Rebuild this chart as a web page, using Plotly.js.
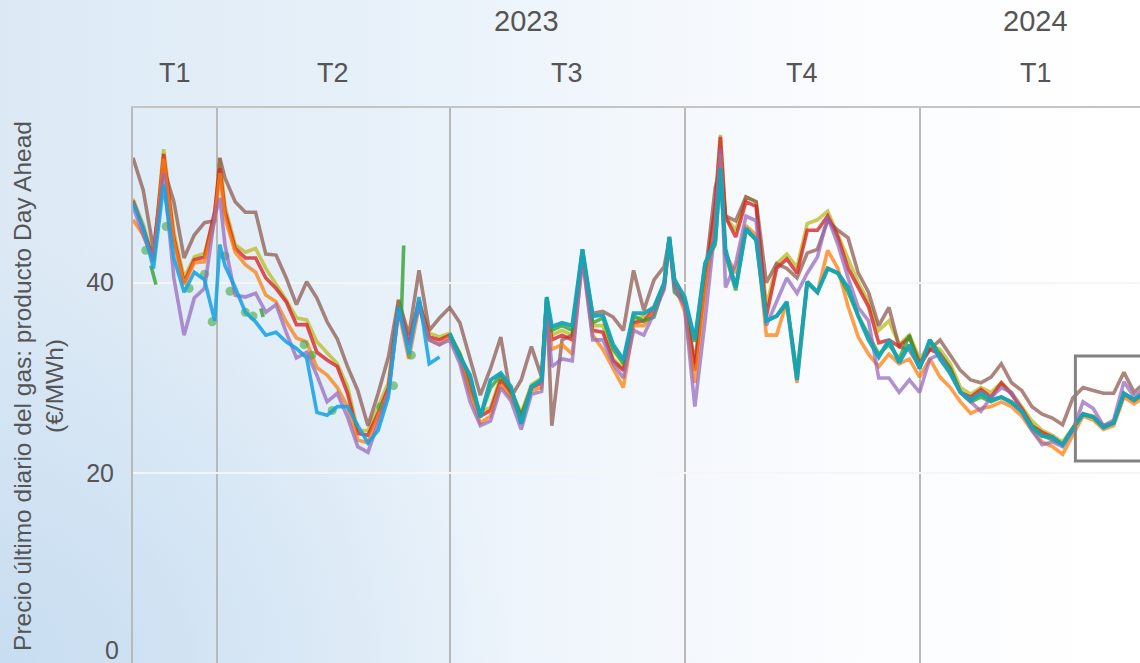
<!DOCTYPE html>
<html><head><meta charset="utf-8">
<script src="https://cdn.plot.ly/plotly-3.0.1.min.js"></script>
<style>
html,body{margin:0;padding:0;width:1140px;height:663px;overflow:hidden;}
body{background:
 radial-gradient(ellipse 60% 85% at 0% 100%, rgba(196,219,240,0.85) 0%, rgba(196,219,240,0) 75%),
 linear-gradient(90deg, #dce9f5 0%, #e6f0f9 30%, #f2f7fc 55%, #fbfcfe 75%, #ffffff 100%);}
#chart{width:1180px;height:690px;}
</style></head><body><div id="chart"></div><script>
const dates = ['2023-02-27','2023-03-03','2023-03-07','2023-03-11','2023-03-15','2023-03-19','2023-03-23','2023-03-27','2023-03-31','2023-04-02',
'2023-04-04','2023-04-08','2023-04-12','2023-04-16','2023-04-20','2023-04-24','2023-04-28','2023-05-02','2023-05-06','2023-05-10',
'2023-05-14','2023-05-18','2023-05-22','2023-05-26','2023-05-30','2023-06-03','2023-06-07','2023-06-11','2023-06-15','2023-06-19',
'2023-06-23','2023-06-27','2023-07-01','2023-07-05','2023-07-09','2023-07-13','2023-07-17','2023-07-21','2023-07-25','2023-07-29',
'2023-08-02','2023-08-06','2023-08-08','2023-08-10','2023-08-14','2023-08-18','2023-08-22','2023-08-26','2023-08-30','2023-09-03',
'2023-09-07','2023-09-11','2023-09-15','2023-09-19','2023-09-23','2023-09-25','2023-09-27','2023-10-01','2023-10-05','2023-10-09',
'2023-10-13','2023-10-15','2023-10-17','2023-10-21','2023-10-25','2023-10-29','2023-11-02','2023-11-06','2023-11-10','2023-11-14',
'2023-11-18','2023-11-22','2023-11-26','2023-11-30','2023-12-04','2023-12-08','2023-12-12','2023-12-16','2023-12-20','2023-12-24',
'2023-12-28','2024-01-01','2024-01-05','2024-01-09','2024-01-13','2024-01-17','2024-01-21','2024-01-25','2024-01-29','2024-02-02',
'2024-02-06','2024-02-10','2024-02-14','2024-02-18','2024-02-22','2024-02-26','2024-03-01','2024-03-05','2024-03-09','2024-03-13',
'2024-03-17','2024-03-21','2024-03-25','2024-03-29'];

const brown = [53.1,49.7,43.5,52.0,48.5,42.6,45.0,46.3,46.5,53.1,
51.0,48.5,47.4,47.4,43.0,42.9,40.5,37.7,40.1,38.4,
35.9,34.1,31.2,28.7,25.0,28.4,32.2,38.2,34.5,41.3,
35.0,36.3,37.4,35.8,32.0,28.2,31.0,34.3,28.0,29.8,
33.3,30.1,38.3,25.0,34.0,34.5,43.0,36.8,37.0,36.4,
35.0,41.3,37.1,40.3,41.7,44.6,40.0,38.0,31.5,40.5,
50.0,52.0,47.0,46.5,49.0,48.5,40.0,42.0,41.5,40.5,
43.1,43.5,46.5,45.5,44.7,41.0,39.0,35.5,37.4,33.3,
32.9,31.2,33.0,34.0,32.4,30.8,29.8,29.5,30.1,31.5,
29.5,28.7,27.0,26.2,25.8,25.1,27.9,29.0,28.7,28.4,
28.4,30.6,28.5,29.5];

const yellowGreen = [48.8,46.1,42.6,54.0,45.3,40.5,42.7,43.1,47.0,53.1,
48.0,44.0,43.2,43.6,41.5,39.8,38.2,36.3,36.1,33.8,
32.7,31.5,29.1,24.5,24.5,27.0,29.5,38.2,34.0,38.2,
34.7,34.3,34.7,32.6,29.0,26.5,26.9,30.1,28.7,26.3,
29.3,30.0,38.3,34.5,35.0,34.5,43.3,35.5,35.5,32.0,
31.0,36.0,36.5,37.5,40.0,44.8,40.5,38.0,31.0,40.0,
48.5,55.5,46.9,45.5,49.0,48.5,37.5,42.0,43.0,41.6,
46.2,46.6,47.5,45.0,42.5,40.0,38.0,35.0,36.0,33.5,
34.5,32.0,33.5,33.0,31.5,29.0,28.3,29.0,28.5,29.5,
28.5,27.0,25.5,24.5,24.0,23.3,24.8,26.3,26.0,25.0,
25.4,28.3,27.7,28.5];

const red = [48.6,45.7,42.4,53.5,44.7,40.0,42.4,42.7,47.5,52.0,
47.5,43.6,42.6,42.6,40.5,39.4,38.0,35.6,35.6,32.7,
31.9,31.2,28.4,24.2,24.0,26.3,29.0,37.5,33.5,38.0,
34.3,34.0,34.5,32.4,28.8,26.0,26.6,29.8,28.4,26.0,
29.0,29.5,38.0,34.0,34.5,34.0,43.0,35.0,34.8,31.8,
30.8,35.8,36.0,37.2,39.8,44.5,40.0,37.8,30.8,40.0,
48.0,55.3,46.9,44.8,48.5,48.0,36.5,41.5,42.5,41.0,
45.5,45.5,47.0,44.8,41.5,39.5,37.5,33.7,34.0,33.3,
34.3,31.6,33.0,32.5,31.0,28.5,28.0,28.8,28.0,29.5,
28.3,26.8,25.0,24.3,23.8,23.0,24.7,26.2,25.9,24.9,
25.3,28.3,27.6,28.4];

const orange = [46.6,45.0,42.2,53.0,44.3,39.8,42.1,42.2,46.5,51.5,
46.8,43.2,41.9,41.1,38.7,38.0,35.9,34.2,33.8,31.1,
30.3,29.0,27.0,23.5,23.2,26.0,28.5,37.0,32.0,37.5,
34.0,33.5,34.3,32.0,28.3,25.3,26.0,29.3,28.0,25.6,
28.7,29.0,37.5,33.0,33.5,32.5,42.5,34.5,33.0,31.0,
29.0,35.5,35.5,37.0,39.5,44.3,39.8,37.0,29.5,39.0,
46.0,53.5,43.0,41.0,46.0,45.0,34.5,34.5,38.0,29.5,
40.0,39.0,43.4,41.5,37.5,34.3,32.5,31.2,32.5,31.5,
32.0,30.1,32.0,30.1,29.0,27.5,26.3,26.8,27.0,27.5,
27.0,26.0,24.5,23.3,22.8,22.0,24.0,26.0,25.6,24.6,
25.0,28.0,27.3,28.0];

const purple = [48.0,45.0,42.5,51.5,40.5,34.5,38.4,39.4,47.0,48.9,
44.0,38.7,38.5,38.9,36.9,37.7,34.8,32.1,32.7,30.3,
27.5,28.4,25.9,22.8,22.2,25.5,28.5,37.0,33.5,37.5,
34.0,33.5,34.0,31.5,27.5,25.0,25.5,29.0,27.6,24.6,
28.3,28.6,37.0,31.2,32.0,31.8,42.5,34.0,34.0,31.5,
30.0,35.0,34.5,36.8,39.3,44.3,39.5,37.5,27.0,36.0,
46.0,54.0,39.5,42.0,47.0,46.5,35.5,38.0,40.5,38.9,
41.0,42.7,46.9,44.0,40.5,37.4,36.0,30.0,30.0,28.5,
29.8,28.5,32.0,32.5,30.5,28.5,27.5,26.5,28.0,29.0,
28.5,26.5,24.5,23.0,23.3,22.8,24.5,27.5,26.8,25.0,
25.6,29.6,28.0,29.0];

const lightBlue = [48.4,45.8,41.5,50.3,42.6,39.0,41.1,40.3,36.0,44.0,
41.8,39.5,36.9,35.9,34.5,34.8,33.8,33.1,32.1,26.4,
26.1,27.0,27.0,25.0,23.2,24.5,28.0,37.5,32.5,38.5,
31.5,32.2];

const teal = [34.7,32.2,30.3,25.9,29.8,30.5,29.1,25.2,
29.1,29.8,38.5,35.4,35.8,35.5,43.5,36.5,36.6,33.5,
31.9,36.8,36.8,37.4,40.0,44.8,40.3,38.5,34.0,42.0,
44.5,52.0,43.5,39.5,45.7,44.5,36.0,36.5,38.0,29.8,
40.1,39.0,41.5,41.0,39.5,36.5,34.0,32.2,34.0,31.6,
33.5,31.0,34.0,32.0,30.5,28.5,27.7,28.4,27.7,28.0,
27.4,26.5,24.8,23.9,23.8,23.0,24.7,26.2,25.9,24.8,
25.3,28.4,27.7,28.5];

const greenEarlyDates = ['2023-03-04','2023-03-05','2023-03-06','2023-03-07','2023-03-08','2023-03-09','2023-03-12','2023-03-13',
'2023-03-21','2023-03-22','2023-03-27','2023-03-28','2023-03-30','2023-03-31','2023-04-04','2023-04-05','2023-04-06','2023-04-07',
'2023-04-12','2023-04-13','2023-04-15','2023-04-16','2023-04-18','2023-04-19','2023-04-20','2023-05-05','2023-05-06','2023-05-08',
'2023-05-09','2023-05-16','2023-05-17','2023-05-25','2023-05-26','2023-05-27','2023-06-04','2023-06-05','2023-06-09','2023-06-10',
'2023-06-12','2023-06-13','2023-06-14','2023-06-16','2023-06-17'];
const greenEarly = [43.4,null,41.8,40.8,39.8,null,45.9,null,
39.4,null,40.9,null,35.9,null,42.8,null,39.1,null,
36.9,null,36.5,null,37.3,36.4,null,33.5,null,32.4,
null,26.6,null,25.3,25.0,null,27.0,null,29.2,null,
36.0,43.9,null,32.4,null];
const greenLate = [34.5,32.5,30.0,26.0,29.0,30.3,28.8,26.0,
29.0,29.8,38.5,35.0,35.5,35.0,43.5,35.8,36.3,33.0,
31.5,36.5,36.0,36.4,39.8,44.8,39.0,38.0,33.8,42.0,
44.0,51.5,43.0,39.2,45.5,44.5,36.0,36.5,37.8,30.5,
40.0,39.0,41.5,41.0,39.0,36.5,34.5,32.5,33.5,32.0,
34.5,31.0,34.0,32.5,31.0,28.5,27.5,28.0,27.5,28.0,
27.5,26.5,25.0,24.0,23.5,23.0,24.7,26.2,25.9,24.9,
25.3,28.4,27.7,28.5];

const rangeStart = '2023-02-27', rangeEnd = '2024-04-01';
const quarterBounds = ['2023-01-01','2023-04-01','2023-07-01','2023-10-01','2024-01-01','2024-04-01'];
const quarterLabels = ['T1','T2','T3','T4','T1'];
const yearBounds = ['2023-01-01','2024-01-01','2025-01-01'];
const yearLabels = ['2023','2024'];
const yTicks = [0,20,40];
const boxStart = '2024-03-02', boxEnd = '2024-03-31', boxLow = 21.3, boxHigh = 32.3;

const font = 'Liberation Sans, Arial, sans-serif';
const txt = '#555555';

function mk(name, x, y, color, w){
  return {type:'scatter', mode:'lines', name:name, x:x, y:y, connectgaps:false,
    line:{color:color, width:w||3.6}, hoverinfo:'skip', showlegend:false};
}
const greenX = greenEarlyDates.concat(dates.slice(dates.length - greenLate.length));
const greenY = greenEarly.concat(greenLate);
const greenSizes = greenY.map((v,i)=>{
  if (v === null) return 0;
  const p = i>0 ? greenY[i-1] : null, n = i<greenY.length-1 ? greenY[i+1] : null;
  return (p === null && n === null) ? 9 : 0;
});
const greenTrace = mk('Serie 5', greenX, greenY, 'rgba(44,160,44,0.78)');
greenTrace.mode = 'lines+markers';
greenTrace.marker = {size:greenSizes, color:'rgba(60,170,60,0.85)', line:{width:0}};

const traces = [
  mk('Serie 1', dates, yellowGreen, 'rgba(188,189,34,0.78)'),
  mk('Serie 2', dates, brown, 'rgba(140,86,75,0.72)'),
  mk('Serie 3', dates, red, 'rgba(214,39,40,0.8)'),
  mk('Serie 4', dates, orange, 'rgba(255,127,14,0.75)'),
  greenTrace,
  mk('Serie 6', dates, purple, 'rgba(148,103,189,0.72)'),
  mk('Serie 7', dates.slice(0, lightBlue.length), lightBlue, 'rgba(25,163,226,0.88)'),
  mk('Serie 8', dates.slice(dates.length - teal.length), teal, 'rgba(22,163,184,0.95)', 4)
];

function mid(a, b){
  const s = Date.parse(rangeStart), e = Date.parse(rangeEnd);
  const A = Math.max(Date.parse(a), s), B = Math.min(Date.parse(b), e);
  return new Date((A+B)/2).toISOString().replace('T',' ').replace('Z','');
}
const annotations = [];
quarterLabels.forEach((t,i)=>annotations.push({x:mid(quarterBounds[i], quarterBounds[i+1]), xref:'x', y:1, yref:'paper',
  yanchor:'middle', yshift:35, text:t, showarrow:false, font:{family:font, size:27, color:txt}}));
yearLabels.forEach((t,i)=>annotations.push({x:mid(yearBounds[i], yearBounds[i+1]), xref:'x', y:1, yref:'paper',
  yanchor:'middle', yshift:87, text:t, showarrow:false, font:{family:font, size:29, color:txt}}));
annotations.push({x:0, xref:'paper', xanchor:'right', xshift:-12, y:yTicks[0], yref:'y', yshift:14,
  text:String(yTicks[0]), showarrow:false, font:{family:font, size:25, color:txt}});

const layout = {
  width:1180, height:690,
  margin:{l:133, r:28, t:108, b:26},
  paper_bgcolor:'rgba(0,0,0,0)', plot_bgcolor:'rgba(0,0,0,0)',
  font:{family:font, color:txt},
  xaxis:{type:'date', range:[rangeStart, rangeEnd], side:'top',
    tickmode:'array', tickvals:quarterBounds.slice(1,5), showticklabels:false, ticks:'',
    showgrid:true, gridcolor:'#b9b9b9', gridwidth:2,
    showline:true, linecolor:'#c4c4c4', linewidth:2, zeroline:false},
  yaxis:{range:[0, 58.33], tickmode:'array', tickvals:yTicks, ticktext:yTicks.map((v,i)=> i===0 ? '' : String(v)),
    tickfont:{family:font, size:25, color:txt}, ticks:'', ticklabelstandoff:12,
    showgrid:true, gridcolor:'rgba(246,246,246,0.95)', gridwidth:2, zeroline:false,
    showline:true, linecolor:'#b9b9b9', linewidth:2,
    title:{text:'Precio último diario del gas: producto Day Ahead<br>(€/MWh)', font:{family:font, size:24.5, color:txt}, standoff:16}},
  shapes:[{type:'rect', xref:'x', yref:'y', x0:boxStart, x1:boxEnd, y0:boxLow, y1:boxHigh,
    line:{color:'#838383', width:3}, fillcolor:'rgba(0,0,0,0)'}],
  annotations:annotations
};
Plotly.newPlot('chart', traces, layout, {staticPlot:true, displayModeBar:false});
</script></body></html>
